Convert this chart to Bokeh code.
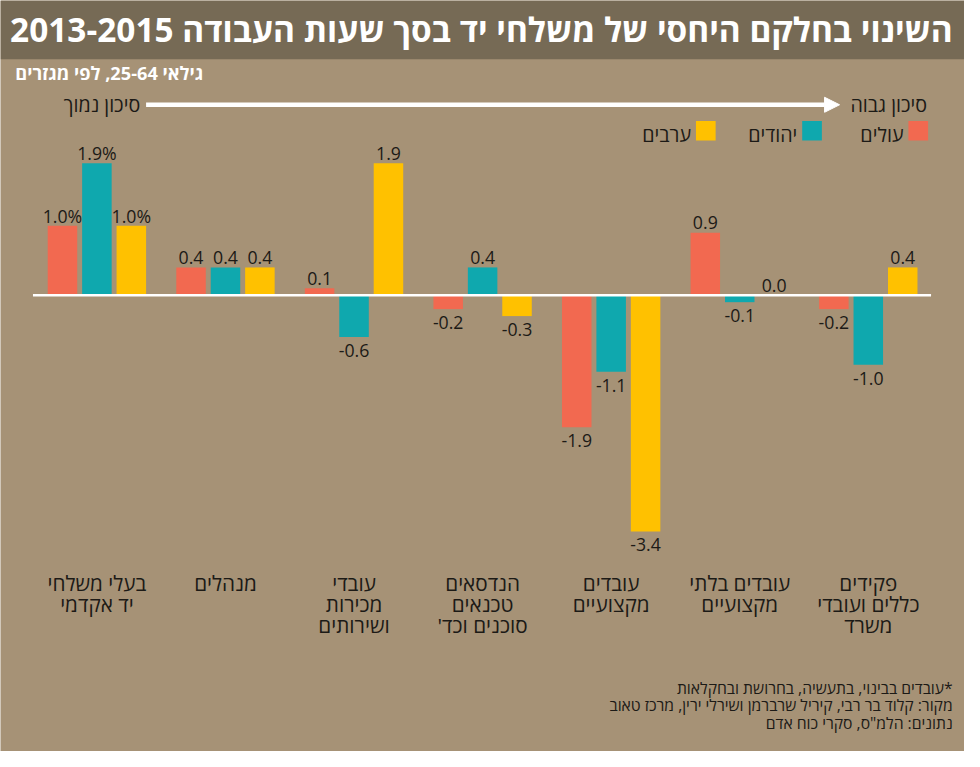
from bokeh.plotting import figure
from bokeh.models import Range1d, ColumnDataSource, Label, BoxAnnotation, Arrow, NormalHead
from bokeh.core.properties import value
from bokeh.embed import file_html
from bokeh.resources import INLINE

# ---------------- data ----------------
title = "השינוי בחלקם היחסי של משלחי יד בסך שעות העבודה 2013-2015"
subtitle = "גילאי 25-64, לפי מגזרים"
risk_high = "סיכון גבוה"
risk_low = "סיכון נמוך"
categories = [
    "בעלי משלחי\nיד אקדמי",
    "מנהלים",
    "עובדי\nמכירות\nושירותים",
    "הנדסאים\nטכנאים\nסוכנים וכד'\u200f",
    "עובדים\nמקצועיים",
    "עובדים בלתי\nמקצועיים",
    "פקידים\nכללים ועובדי\nמשרד",
]
series_names = ["עולים", "יהודים", "ערבים"]
olim = [1.0, 0.4, 0.1, -0.2, -1.9, 0.9, -0.2]
yehudim = [1.9, 0.4, -0.6, 0.4, -1.1, -0.1, -1.0]
aravim = [1.0, 0.4, 1.9, -0.3, -3.4, 0.0, 0.4]
notes = [
    "\u200f*עובדים בבינוי, בתעשיה, בחרושת ובחקלאות",
    "מקור: קלוד בר רבי, קיריל שרברמן ושירלי ירין, מרכז טאוב",
    "נתונים: הלמ\"ס, סקרי כוח אדם",
]

# ---------------- style ----------------
BG = "#a69276"
TITLE_BG = "#766a55"
COLORS = ["#f26950", "#0fa8ae", "#ffc100"]
TXT = "#1c1a16"
FONT_NAME = "Open Sans"
FONT = value(FONT_NAME)

W, H = 964, 751
RW, RH = 980, 767          # design canvas
S = W / RW                 # px scale
KX = 130.7                 # design px per category
KY = 71.0                  # design px per percentage point
GX0 = 98.0                 # design x of first group centre
ZY = 301.0                 # design y of zero line
SHIFT = 0.33               # baseline correction (em)


def dx(X):
    return (X - GX0) / KX


def dy(Y):
    return (ZY - Y) / KY


def base(Y, fs):
    """data y for a text whose alphabetic baseline should sit at design y=Y"""
    return dy(Y - SHIFT * fs)


def fpx(fs):
    return f"{fs * S:.1f}px"


p = figure(width=W, height=H,
           x_range=Range1d(dx(0), dx(RW)), y_range=Range1d(dy(RH), dy(0)),
           output_backend="svg", toolbar_location=None, min_border=0,
           x_axis_location=None, y_axis_location=None,
           background_fill_color=BG, border_fill_color=BG,
           outline_line_color=None)
p.xgrid.visible = False
p.ygrid.visible = False

# title bar
p.add_layout(BoxAnnotation(left=dx(0), right=dx(RW), top=dy(0), bottom=dy(60),
                           fill_color=TITLE_BG, fill_alpha=1, line_alpha=0))
p.add_layout(Label(x=dx(968), y=base(40, 34), text=title, text_align="right",
                   text_baseline="alphabetic", text_font=FONT_NAME, text_font_style="bold",
                   text_font_size=fpx(34), text_color="white"))
p.add_layout(Label(x=dx(15), y=base(80, 18.5), text=subtitle, text_align="left",
                   text_baseline="alphabetic", text_font=FONT_NAME, text_font_style="bold",
                   text_font_size=fpx(18.5), text_color="white"))

# risk arrow
p.add_layout(Arrow(x_start=dx(148), y_start=dy(106.5), x_end=dx(853), y_end=dy(106.5),
                   line_color="white", line_width=4.5,
                   end=NormalHead(size=15, fill_color="white", line_color="white")))
p.add_layout(Label(x=dx(942), y=base(113, 20), text=risk_high, text_align="right",
                   text_baseline="alphabetic", text_font=FONT_NAME, text_font_size=fpx(20),
                   text_color=TXT))
p.add_layout(Label(x=dx(142), y=base(113, 20), text=risk_low, text_align="right",
                   text_baseline="alphabetic", text_font=FONT_NAME, text_font_size=fpx(20),
                   text_color=TXT))

# legend
for k, name in enumerate(series_names):
    right = 943 - 108 * k
    p.rect(x=[dx(right - 10)], y=[dy(133)], width=20 / KX, height=20 / KY,
           fill_color=COLORS[k], line_color=None)
    p.text(x=[dx(right - 25)], y=[base(143, 20)], text=[name], text_align="right",
           text_baseline="alphabetic", text_font=FONT, text_font_size=fpx(20),
           text_color=TXT)

# bars
series = [olim, yehudim, aravim]
offsets = [-35 / KX, 0.0, 35 / KX]
bw = 30 / KX
LFS = 18
for k, vals in enumerate(series):
    xs = [i + offsets[k] for i in range(len(vals))]
    labels = [f"{v:.1f}" + ("%" if i == 0 else "") for i, v in enumerate(vals)]
    src = ColumnDataSource(dict(x=xs, top=vals, label=labels))
    p.vbar(x="x", top="top", bottom=0, width=bw, source=src,
           fill_color=COLORS[k], line_color=None)
    pos = ColumnDataSource(dict(
        x=[x for x, v in zip(xs, vals) if v >= 0],
        y=[v for v in vals if v >= 0],
        t=[l for l, v in zip(labels, vals) if v >= 0]))
    neg = ColumnDataSource(dict(
        x=[x for x, v in zip(xs, vals) if v < 0],
        y=[v for v in vals if v < 0],
        t=[l for l, v in zip(labels, vals) if v < 0]))
    p.text(x="x", y="y", text="t", source=pos, text_align="center",
           text_baseline="alphabetic", y_offset=(-4 - SHIFT * LFS) * S, text_font=FONT,
           text_font_size=fpx(LFS), text_color=TXT)
    p.text(x="x", y="y", text="t", source=neg, text_align="center",
           text_baseline="alphabetic", y_offset=(19.5 - SHIFT * LFS) * S, text_font=FONT,
           text_font_size=fpx(LFS), text_color=TXT)

# zero line
p.segment(x0=[dx(33)], y0=[0], x1=[dx(946)], y1=[0], line_color="white", line_width=2.5)

# category labels
p.text(x=list(range(len(categories))), y=[dy(581)] * len(categories), text=categories,
       text_align="center", text_baseline="top", text_font=FONT,
       text_font_size=fpx(21), text_line_height=0.75, text_color=TXT)

# footnotes
for j, note in enumerate(notes):
    p.add_layout(Label(x=dx(968), y=base(707 + 18 * j, 16), text=note, text_align="right",
                       text_baseline="alphabetic", text_font=FONT_NAME,
                       text_font_size=fpx(16), text_color=TXT))

open("out.html", "w").write(file_html(p, INLINE))
